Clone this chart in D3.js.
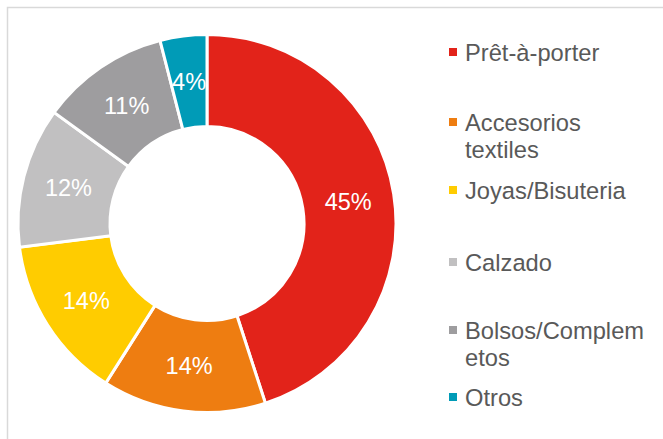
<!DOCTYPE html>
<html>
<head>
<meta charset="utf-8">
<script src="https://cdn.jsdelivr.net/npm/d3@7"></script>
<style>
  html, body { margin: 0; padding: 0; background: #fff; }
  svg { display: block; }
</style>
</head>
<body>
<svg id="chart" width="663" height="439"></svg>
<script>
const categories = ["Prêt-à-porter", "Accesorios textiles", "Joyas/Bisuteria", "Calzado", "Bolsos/Complementos", "Otros"];
const values = [45, 14, 14, 12, 11, 4];
const legendLines = [["Prêt-à-porter"], ["Accesorios", "textiles"], ["Joyas/Bisuteria"], ["Calzado"], ["Bolsos/Complem", "etos"], ["Otros"]];
const colors = ["#E2231A", "#EE7D11", "#FFCC00", "#C1C0C1", "#9E9D9F", "#009BB7"];

const svg = d3.select("#chart");
const font = "'Liberation Sans', Arial, sans-serif";

// frame
svg.append("rect").attr("x", 7.5).attr("y", 7.5).attr("width", 700).attr("height", 500)
  .attr("fill", "none").attr("stroke", "#D9D9D9").attr("stroke-width", 1.5);

const cx = 207, cy = 223.5, R = 189, r0 = 97;
const pie = d3.pie().value(d => d).sort(null);
const arc = d3.arc().innerRadius(r0).outerRadius(R);
const labelArc = d3.arc().innerRadius((r0 + R) / 2).outerRadius((r0 + R) / 2);
const arcs = pie(values);

const g = svg.append("g").attr("transform", `translate(${cx},${cy})`);
g.selectAll("path").data(arcs).join("path")
  .attr("d", arc)
  .attr("fill", (d, i) => colors[i])
  .attr("stroke", "#fff").attr("stroke-width", 3).attr("stroke-linejoin", "miter");

g.selectAll("text").data(arcs).join("text")
  .attr("transform", d => `translate(${labelArc.centroid(d)})`)
  .attr("text-anchor", "middle").attr("dy", "0.36em")
  .attr("font-family", font).attr("font-size", 23.5).attr("fill", "#fff")
  .text(d => d.data + "%");

// legend
const legendY = [52, 122, 190, 262, 330, 397];
const lg = svg.append("g");
legendLines.forEach((lines, i) => {
  lg.append("rect").attr("x", 449).attr("y", legendY[i] - 4).attr("width", 8).attr("height", 8).attr("fill", colors[i]);
  const t = lg.append("text").attr("x", 465).attr("y", legendY[i])
    .attr("font-family", font).attr("font-size", 23.7).attr("fill", "#595959");
  lines.forEach((ln, j) => {
    t.append("tspan").attr("x", 465).attr("dy", j === 0 ? "0.36em" : 27).text(ln);
  });
});
</script>
</body>
</html>
